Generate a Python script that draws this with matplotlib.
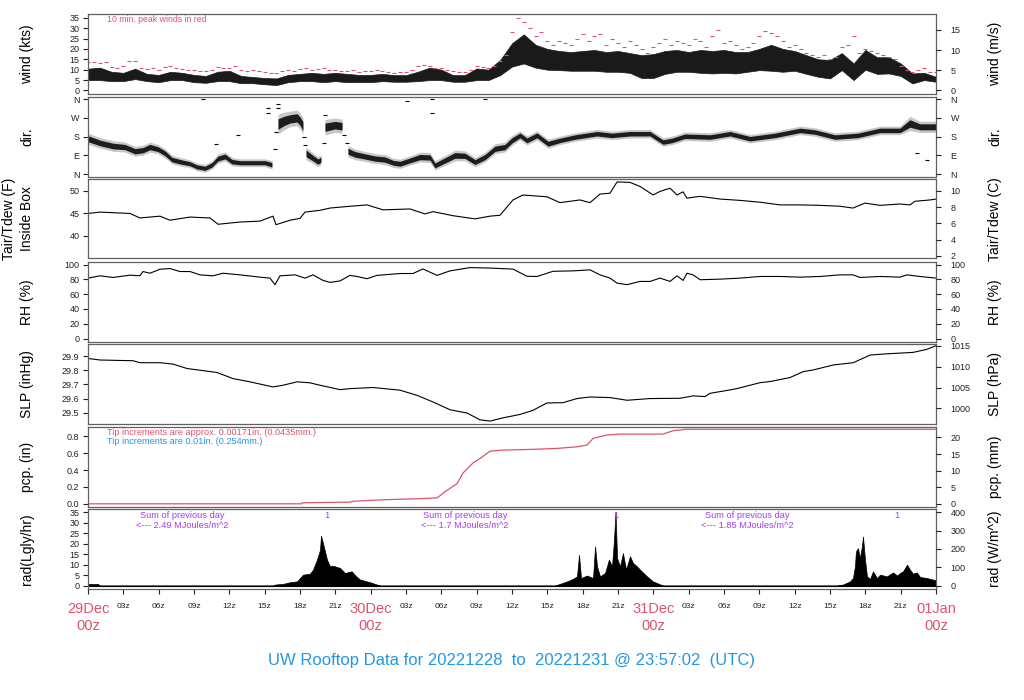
import numpy as np
import matplotlib
matplotlib.use('Agg')
import matplotlib.pyplot as plt

plt.rcParams['font.family'] = ['Liberation Sans', 'DejaVu Sans']

RED = '#DF536B'
BLUE = '#2297E6'
PURPLE = '#A63DF0'
FRAME = '#606060'

# ---------------- data (hours since 29Dec 00z) ----------------
wind_t = list(range(73))
wind_lo = [5, 5, 4.5, 4.5, 5.5, 4.5, 4, 5, 5, 4, 3.7, 4.5, 4.5, 3.5, 3.5, 3, 2.6, 4, 4.5, 4.5,
           4, 4.5, 4, 4, 4, 4.5, 4.2, 4.2, 4.5, 5, 5, 4.2, 4.2, 5, 5, 7.4, 11.5, 13, 11, 10,
           9.8, 9.5, 9.5, 9.5, 9, 9, 8.5, 6, 6, 8, 9, 9, 8.5, 8.2, 8.5, 8.2, 9, 9.8, 9.5, 9,
           9.5, 8, 6.6, 5.8, 9.8, 5, 10, 8, 8.2, 7, 3.4, 5, 4.2]
wind_hi = [10.5, 11, 9, 8.5, 10.5, 8, 7.5, 9, 8.5, 7.5, 7, 9, 9.5, 7, 6.5, 6, 5.8, 7.5, 8, 8.5,
           8, 8.5, 8, 7.5, 7.5, 8, 7.4, 7.4, 9, 11, 10, 7.4, 7.4, 10.6, 10, 14.7, 22.7, 27, 22, 20,
           19, 18.5, 19, 19.5, 18.5, 19, 18, 17, 17.5, 19, 19.5, 18.5, 19.5, 19, 19.5, 18.5, 18.5, 20, 22, 20,
           19, 17, 15, 14.7, 18, 13, 19.5, 16, 16, 13, 8.2, 8.5, 6.6]
peak_t = [i * 0.5 for i in range(145)]
peak_kts = [13.9, 13.5, 13, 13.5, 11.5, 11, 12, 14, 14, 11, 10.5, 11, 10, 11.5, 12, 11,
            10.5, 10, 10, 9.5, 9.5, 10, 11.5, 11, 11, 12, 10, 9.5, 10, 9.5, 9, 8.5,
            8.5, 9.5, 10, 9.5, 10.5, 11, 10, 10.5, 11, 10, 10, 9.5, 9.5, 10, 9, 9.5,
            9.5, 10, 9.5, 9, 8.5, 9, 9, 10, 12, 12.5, 12, 11, 11, 10, 9.5, 9,
            9, 10, 12, 11.5, 11, 12, 14, 17, 28, 35, 33, 30, 26, 28, 24, 22,
            24, 23, 22, 25, 27, 24, 26, 27, 22, 25, 23, 21, 24, 22, 20, 18,
            21, 23, 25, 22, 24, 23, 22, 25, 24, 21, 26, 29, 23, 24, 22, 20,
            21, 23, 26, 28.5, 27.5, 26, 24, 21, 22, 20, 18, 17, 16, 17, 15, 16,
            21, 22, 26, 18, 20, 19, 18, 17, 16, 15, 12, 10, 9, 10, 11, 9, 9]

dir_t = [0, 1.02, 2.12, 3.14, 3.99, 4.67, 5.26, 5.94, 6.54, 7.13, 7.81, 8.66, 9.25, 9.93, 10.53,
         11.04, 11.63, 12.23, 12.91, 14.18, 15.03, 15.62, 16.13, 16.64, 17.15, 17.75, 18.0, 18.25,
         18.51, 19.02, 19.53, 19.78, 20.12, 20.97, 21.57, 22.07, 22.67, 23.52, 24.37, 25.22, 25.9,
         26.49, 27.34, 28.19, 29.04, 29.46, 30.31, 31.16, 32.01, 32.86, 33.71, 34.56, 35.40, 36.0,
         36.68, 37.27, 38.12, 39.06, 40.07, 41.35, 43.22, 44.49, 46.02, 47.72, 48.82, 49.59, 50.69,
         52.82, 54.51, 56.21, 58.33, 60.46, 61.72, 63.42, 65.37, 67.24, 68.94, 69.79, 70.64, 72]
dir_deg = [170, 150, 135, 130, 110, 115, 130, 120, 100, 70, 60, 50, 35, 28, 45,
           75, 85, 60, 55, 55, 55, 45, 240, 255, 265, 270, 255, 230,
           100, 80, 60, 70, 225, 235, 230, 110, 95, 85, 75, 70, 55,
           50, 66, 82, 80, 42, 66, 90, 88, 58, 82, 122, 130, 162,
           186, 162, 186, 146, 162, 178, 194, 186, 194, 194, 154, 162, 182,
           178, 194, 170, 186, 210, 202, 178, 186, 210, 210, 243, 227, 227]
dir_spread = [16, 15, 15, 14, 14, 14, 14, 13, 13, 12, 12, 11, 11, 11, 12,
              13, 13, 12, 11, 11, 11, 12, 28, 25, 22, 22, 22, 24,
              18, 15, 14, 14, 22, 20, 20, 16, 15, 14, 14, 14, 13,
              13, 13, 14, 14, 13, 14, 15, 14, 13, 14, 14, 14, 14,
              13, 13, 13, 13, 12, 12, 12, 12, 12, 12, 12, 12, 12,
              12, 12, 12, 12, 12, 12, 12, 12, 12, 12, 20, 16, 16]
dir_out_t = [9.76, 27.06, 29.18, 29.18, 33.71, 70.36, 71.21, 12.74, 15.3, 15.3, 16.1, 16.1, 10.9,
             20.1, 18.3, 18.4, 15.9, 16.0, 20.0, 21.7, 22.0]
dir_out_deg = [360, 350, 360, 291, 360, 103, 66, 186, 291, 315, 336, 315, 146,
               283, 180, 140, 120, 200, 150, 190, 150]

tair_t = [0, 1.02, 3.57, 4.41, 6.11, 6.96, 8.66, 10.36, 11.04, 12.91, 14.6, 15.71, 15.96, 17.15,
          18.0, 18.42, 19.70, 20.55, 21.82, 23.69, 25.05, 27.34, 28.61, 29.29, 30.99, 32.86, 34.13,
          34.98, 36.08, 36.93, 38.97, 40.07, 41.77, 42.62, 43.47, 44.32, 44.92, 46.02, 46.87, 47.98,
          48.57, 49.42, 50.01, 50.52, 50.86, 51.97, 53.67, 55.36, 57.06, 58.76, 60.46, 62.15, 63.85,
          64.95, 65.97, 67.24, 68.94, 69.79, 70.21, 71.49, 72]
tair_f = [45.0, 45.3, 45.0, 44.0, 44.4, 43.5, 44.2, 44.0, 42.6, 43.1, 43.3, 44.4, 42.5, 43.5,
          43.9, 45.3, 45.7, 46.2, 46.5, 46.9, 45.8, 46.0, 44.9, 45.4, 44.5, 43.8, 44.4,
          44.6, 48.0, 49.1, 48.7, 47.4, 48.0, 47.4, 49.3, 49.5, 52.0, 51.9, 51.0, 49.1,
          49.9, 50.6, 49.1, 49.8, 48.4, 48.8, 48.2, 47.9, 47.5, 46.9, 46.9, 46.8, 46.6,
          46.2, 47.3, 46.8, 47.1, 46.9, 47.7, 48.0, 48.2]

rh_t = [0, 1.02, 2.12, 3.57, 4.41, 4.67, 5.26, 6.11, 6.96, 7.81, 8.66, 9.51, 10.61, 11.46, 12.91,
        14.6, 15.45, 15.88, 16.30, 17.58, 18.42, 19.10, 19.95, 20.55, 21.40, 22.24, 22.84, 23.69,
        24.54, 26.49, 27.59, 28.44, 29.63, 30.74, 32.43, 34.13, 36.08, 37.27, 38.12, 39.48, 41.18,
        42.62, 43.47, 44.32, 44.92, 45.76, 46.87, 47.72, 48.57, 49.42, 50.01, 50.52, 50.86, 51.37,
        51.97, 53.67, 55.36, 57.06, 58.76, 60.46, 62.15, 63.85, 64.95, 65.55, 67.24, 68.94, 69.54,
        70.64, 72]
rh_pct = [81.8, 84.9, 82.7, 85.8, 85, 90.7, 88.4, 93.8, 94.7, 90.7, 90.7, 86.2, 84.9, 88.4, 86.2,
          83.1, 81.8, 72.9, 84.9, 86.2, 81.8, 86.2, 78.7, 76, 78, 85.5, 84, 81,
          85.5, 88, 88, 94.2, 85.5, 91.6, 96, 95.4, 94, 84.3, 84, 91, 91.6,
          93, 86.2, 81.8, 75, 72.9, 77.3, 77.3, 81.8, 77.3, 84.9, 78.7, 88.4, 86.2,
          79.6, 80.4, 81.8, 84, 84, 83.1, 84, 86.2, 86.2, 82.7, 84, 83.1, 86.2,
          84, 81.8]

slp_t = [0, 1.02, 3.82, 4.41, 6.11, 7.22, 8.41, 9.51, 10.95, 12.31, 13.75, 15.71, 16.56, 17.75,
         18.85, 19.70, 21.40, 22.24, 24.20, 26.49, 27.93, 29.29, 30.74, 32.18, 33.28, 34.13, 35.24,
         36.68, 37.78, 38.97, 40.33, 41.52, 42.62, 44.32, 45.76, 47.72, 50.26, 51.39, 52.39, 52.82,
         54.51, 55.08, 57.06, 57.91, 59.60, 60.73, 61.58, 63.28, 64.98, 66.40, 67.52, 70.07, 71.21, 72]
slp_inhg = [29.883, 29.872, 29.867, 29.853, 29.853, 29.843, 29.812, 29.800, 29.784, 29.741, 29.718,
            29.682, 29.694, 29.718, 29.711, 29.694, 29.663, 29.670, 29.678, 29.659, 29.623, 29.576,
            29.521, 29.498, 29.450, 29.441, 29.464, 29.488, 29.517, 29.569, 29.571, 29.600, 29.611,
            29.607, 29.588, 29.600, 29.602, 29.619, 29.614, 29.637, 29.661, 29.670, 29.712, 29.720,
            29.748, 29.790, 29.802, 29.837, 29.853, 29.907, 29.914, 29.926, 29.947, 29.973]

pcp_t = [0, 18.17, 18.18, 22.24, 22.5, 25.05, 27.93, 29.63, 30.48, 31.33, 31.84, 32.69, 33.28,
         34.13, 34.98, 37.53, 39.82, 41.52, 42.37, 42.88, 44.07, 45.16, 48.82, 49.67, 50.26, 50.7, 72]
pcp_in = [0, 0, 0.012, 0.02, 0.03, 0.048, 0.06, 0.07, 0.159, 0.239, 0.365, 0.485, 0.537,
          0.624, 0.636, 0.645, 0.657, 0.676, 0.696, 0.776, 0.816, 0.827, 0.827, 0.867, 0.875, 0.884, 0.884]

rad_t = [0, 0.85, 1.0, 15.71, 15.9, 16.56, 17.15, 17.75, 18.0, 18.25, 18.85, 19.10, 19.44, 19.70,
         19.78, 19.95, 20.29, 20.55, 20.80, 21.40, 21.82, 22.39, 22.75, 23.09, 23.94, 24.79,
         39.65, 40.67, 41.18, 41.52, 41.69, 41.86, 42.37, 42.88, 43.05, 43.22, 43.47, 43.90, 44.23,
         44.49, 44.66, 44.79, 44.92, 45.17, 45.42, 45.68, 46.02, 46.27, 46.61, 46.87, 47.46, 47.97,
         48.82, 63.59, 64.10, 64.70, 64.95, 65.12, 65.20, 65.37, 65.54, 65.71, 65.80, 65.97, 66.14,
         66.40, 66.65, 66.99, 67.24, 67.84, 68.35, 68.69, 68.94, 69.20, 69.54, 69.79, 70.04, 70.38,
         70.64, 71.23, 72]
rad_ly = [0.8, 0.8, 0, 0, 0.5, 0.8, 1.6, 2.0, 3.6, 5.2, 5.7, 7.6, 12.4, 17.1,
          23.8, 20.3, 12.4, 9.2, 9.5, 8.4, 6, 6.8, 4.5, 2.9, 1.6, 0,
          0, 2, 3.2, 4.4, 14.7, 3.6, 4.8, 3.6, 18.7, 9.2, 4.4, 6, 12.4,
          9.2, 21.8, 35.3, 13.1, 9.2, 15.5, 7.6, 14, 10.8, 9.2, 7.6, 4.4, 2,
          0, 0, 0.5, 2, 3.6, 9.2, 16.3, 17.9, 13.1, 18.7, 23.4, 12.4, 4.4,
          3.2, 6.8, 3.6, 5.2, 4.4, 6.3, 4.8, 6, 6.8, 10, 7.6, 5.7, 6.3,
          4.1, 3.6, 2.5]

day_sum_t = [8, 32, 56]
day_sum_txt = ['<--- 2.49 MJoules/m^2', '<--- 1.7 MJoules/m^2', '<--- 1.85 MJoules/m^2']
one_t = [20.3, 44.8, 68.7]

xtick_hours = list(range(0, 73, 3))
date_labels = {0: '29Dec\n00z', 24: '30Dec\n00z', 48: '31Dec\n00z', 72: '01Jan\n00z'}

# ---------------- figure ----------------
W, H = 1024, 700
fig = plt.figure(figsize=(W / 100, H / 100), dpi=100)
L, R = 88, 936
PH = 79.5
tops = [14, 97, 179, 262, 344, 427, 509]


def make_ax(top):
    ax = fig.add_axes([L / W, 1 - (top + PH) / H, (R - L) / W, PH / H])
    ax.set_xlim(0, 72)
    ax.set_xticks([])
    for s in ax.spines.values():
        s.set_color(FRAME)
        s.set_linewidth(0.9)
    ax.tick_params(axis='y', direction='out', length=3.6, width=0.8, labelsize=6.5, pad=2.5,
                   colors='#222222')
    return ax


def right_ax(ax, lim, ticks, labels=None):
    r = ax.twinx()
    r.set_ylim(*lim)
    r.set_yticks(ticks)
    if labels is not None:
        r.set_yticklabels(labels)
    r.tick_params(axis='y', direction='out', length=3.6, width=0.8, labelsize=6.5, pad=7,
                  colors='#222222')
    for s in r.spines.values():
        s.set_visible(False)
    r.set_xlim(0, 72)
    return r


def ptext(x, y, s, **kw):
    fig.text(x / W, 1 - y / H, s, **kw)


# wind
ax = make_ax(tops[0])
lim = (-1.45, 36.8)
ax.set_ylim(*lim)
ax.set_yticks(range(0, 36, 5))
ax.fill_between(wind_t, wind_lo, wind_hi, color='#1a1a1a', lw=0.5)
ax.plot(peak_t, peak_kts, ls='none', marker='_', ms=3.5, mew=0.8, color=RED)
right_ax(ax, (lim[0] * 0.5144, lim[1] * 0.5144), [0, 5, 10, 15])
ptext(107, 19, '10 min. peak winds in red', color=RED, fontsize=6.3, va='center')

# direction
ax = make_ax(tops[1])
lim = (-11, 370)
ax.set_ylim(*lim)
dt = np.array(dir_t); dd = np.array(dir_deg); ds = np.array(dir_spread)
# break the band where the direction jumps by a large amount
seg_starts = [0] + [i + 1 for i in range(len(dd) - 1) if abs(dd[i + 1] - dd[i]) > 90] + [len(dd)]
for a, b in zip(seg_starts[:-1], seg_starts[1:]):
    if b - a == 1:
        ax.plot(dt[a:b], dd[a:b], ls='none', marker='s', ms=3, color='black')
        continue
    ax.fill_between(dt[a:b], dd[a:b] - ds[a:b] * 0.9, dd[a:b] + ds[a:b] * 0.9,
                    color='black', lw=0, alpha=0.85)
    ax.fill_between(dt[a:b], dd[a:b] - ds[a:b] * 1.7, dd[a:b] + ds[a:b] * 1.7,
                    color='black', lw=0, alpha=0.22)
ax.plot(dir_out_t, dir_out_deg, ls='none', marker='_', ms=3, mew=0.8, color='black')
ax.set_yticks([0, 90, 180, 270, 360])
ax.set_yticklabels(['N', 'E', 'S', 'W', 'N'])
right_ax(ax, lim, [0, 90, 180, 270, 360], ['N', 'E', 'S', 'W', 'N'])

# temperature
ax = make_ax(tops[2])
lim = (35, 52.65)
ax.set_ylim(*lim)
ax.set_yticks([40, 45, 50])
ax.plot(tair_t, tair_f, color='black', lw=0.8)
right_ax(ax, ((lim[0] - 32) * 5 / 9, (lim[1] - 32) * 5 / 9), [2, 4, 6, 8, 10])

# RH
ax = make_ax(tops[3])
ax.set_ylim(-4, 103.6)
ax.set_yticks(range(0, 101, 20))
ax.plot(rh_t, rh_pct, color='black', lw=0.8)
right_ax(ax, (-4, 103.6), range(0, 101, 20))

# SLP
ax = make_ax(tops[4])
lim = (29.424, 29.985)
ax.set_ylim(*lim)
ax.set_yticks([29.5, 29.6, 29.7, 29.8, 29.9])
ax.set_yticklabels(['29.5', '29.6', '29.7', '29.8', '29.9'])
ax.plot(slp_t, slp_inhg, color='black', lw=0.8)
right_ax(ax, (lim[0] * 33.8639, lim[1] * 33.8639), [1000, 1005, 1010, 1015])

# precipitation
ax = make_ax(tops[5])
lim = (-0.032, 0.911)
ax.set_ylim(*lim)
ax.set_yticks([0, 0.2, 0.4, 0.6, 0.8])
ax.set_yticklabels(['0.0', '0.2', '0.4', '0.6', '0.8'])
ax.plot(pcp_t, pcp_in, color=RED, lw=0.9)
right_ax(ax, (lim[0] * 25.4, lim[1] * 25.4), [0, 5, 10, 15, 20])
ptext(107, 432.5, 'Tip increments are approx. 0.00171in. (0.0435mm.)', color=RED, fontsize=6.6, va='center')
ptext(107, 441.5, 'Tip increments are 0.01in. (0.254mm.)', color=BLUE, fontsize=6.6, va='center')

# radiation
ax = make_ax(tops[6])
lim = (-1.4, 36.57)
ax.set_ylim(*lim)
ax.set_yticks(range(0, 36, 5))
ax.fill_between(rad_t, 0, rad_ly, color='black', lw=0.5)
ax.axhline(0, color='black', lw=0.8)
f = 400 / 35
right_ax(ax, (lim[0] * f, lim[1] * f), [0, 100, 200, 300, 400])
ax.set_xticks(xtick_hours)
ax.set_xticklabels([])
ax.tick_params(axis='x', direction='out', length=3.6, width=0.8, colors='#222222')
for h in xtick_hours:
    xp = L + (R - L) * h / 72
    if h in date_labels:
        a, b = date_labels[h].split('\n')
        ptext(xp, 609, a, color=RED, fontsize=10.5, ha='center', va='center')
        ptext(xp, 626, b, color=RED, fontsize=10.5, ha='center', va='center')
    else:
        ptext(xp, 606, '%02dz' % (h % 24), color='#222222', fontsize=6, ha='center', va='center')
for h, s in zip(day_sum_t, day_sum_txt):
    xp = L + (R - L) * h / 72
    ptext(xp, 515, 'Sum of previous day', color=PURPLE, fontsize=6.7, ha='center', va='center')
    ptext(xp, 525.5, s, color=PURPLE, fontsize=6.7, ha='center', va='center')
for h in one_t:
    xp = L + (R - L) * h / 72
    ptext(xp, 515, '1', color=PURPLE, fontsize=6.7, ha='center', va='center')

# axis labels
left_labels = ['wind (kts)', 'dir.', None, 'RH (%)', 'SLP (inHg)', 'pcp. (in)', 'rad(Lgly/hr)']
right_labels = ['wind (m/s)', 'dir.', 'Tair/Tdew (C)', 'RH (%)', 'SLP (hPa)', 'pcp. (mm)', 'rad (W/m^2)']
for i, t in enumerate(tops):
    yc = t + PH / 2
    if left_labels[i] is not None:
        ptext(27, yc, left_labels[i], rotation=90, fontsize=10, ha='center', va='center')
    else:
        ptext(9, yc, 'Tair/Tdew (F)', rotation=90, fontsize=10, ha='center', va='center')
        ptext(27, yc, 'Inside Box', rotation=90, fontsize=10, ha='center', va='center')
    ptext(995, yc, right_labels[i], rotation=90, fontsize=10, ha='center', va='center')

ptext(512, 660, 'UW Rooftop Data for 20221228  to  20221231 @ 23:57:02  (UTC)',
      color=BLUE, fontsize=12, ha='center', va='center')

fig.savefig('out.png', dpi=100)
